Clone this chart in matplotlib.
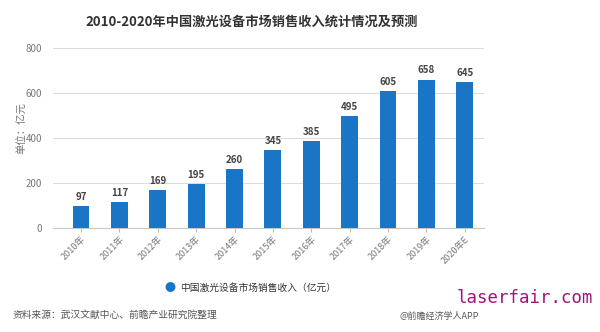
import matplotlib
matplotlib.use('Agg')
import matplotlib.pyplot as plt

plt.rcParams['font.family'] = ['Noto Sans CJK SC', 'DejaVu Sans']

# data
years = ['2010年', '2011年', '2012年', '2013年', '2014年', '2015年',
         '2016年', '2017年', '2018年', '2019年', '2020年E']
revenue = [97, 117, 169, 195, 260, 345, 385, 495, 605, 658, 645]
yticks = [0, 200, 400, 600, 800]

bar_color = '#1b75c6'
grid_color = '#dcdcdc'
text_gray = '#777777'

fig = plt.figure(figsize=(6.0, 3.32), dpi=100)
ax = fig.add_axes([53 / 600, 1 - 228 / 332, (484 - 53) / 600, (228 - 47.5) / 332])

x = list(range(len(years)))
ax.bar(x, revenue, width=0.44, color=bar_color, zorder=3)

for xi, v in zip(x, revenue):
    ax.text(xi, v + 18, str(v), ha='center', va='bottom', fontsize=7,
            fontweight='bold', color='#444444')

ax.set_xlim(-0.73, 10.5)
ax.set_ylim(0, 800)
ax.set_yticks(yticks)
ax.set_yticklabels([str(t) for t in yticks], fontsize=7, color=text_gray)
ax.yaxis.grid(True, color=grid_color, linewidth=0.8, zorder=0)
ax.tick_params(axis='y', length=0, pad=8)

ax.set_xticks(x)
ax.set_xticklabels(years, rotation=45, ha='right', rotation_mode='anchor',
                   fontsize=6.5, color=text_gray)
ax.tick_params(axis='x', length=3, color='#bbbbbb', pad=2)

for side in ['top', 'right', 'left']:
    ax.spines[side].set_visible(False)
ax.spines['bottom'].set_color('#c8c8c8')

# title and labels
fig.text(252 / 600, 1 - 22 / 332, '2010-2020年中国激光设备市场销售收入统计情况及预测',
         ha='center', va='center', fontsize=9.5, fontweight='bold', color='#333333')
fig.text(22 / 600, 1 - 128 / 332, '单位：亿元', rotation=90, ha='center', va='center',
         fontsize=7.5, color=text_gray)

# legend
fig.text(170 / 600, 1 - 288 / 332, '●', ha='center', va='center', fontsize=8,
         color=bar_color)
fig.text(180 / 600, 1 - 288 / 332, '中国激光设备市场销售收入（亿元）', ha='left',
         va='center', fontsize=7, color='#333333')

# footer
fig.text(13 / 600, 1 - 315 / 332, '资料来源：武汉文献中心、前瞻产业研究院整理',
         ha='left', va='center', fontsize=7, color='#555555')
fig.text(400 / 600, 1 - 316 / 332, '@前瞻经济学人APP', ha='left', va='center',
         fontsize=6.5, color='#555555')
fig.text(593 / 600, 1 - 298 / 332, 'laserfair.com', ha='right', va='center',
         fontsize=12.5, color='#a0157c', family='DejaVu Sans Mono')

fig.savefig('out.png', dpi=100)
